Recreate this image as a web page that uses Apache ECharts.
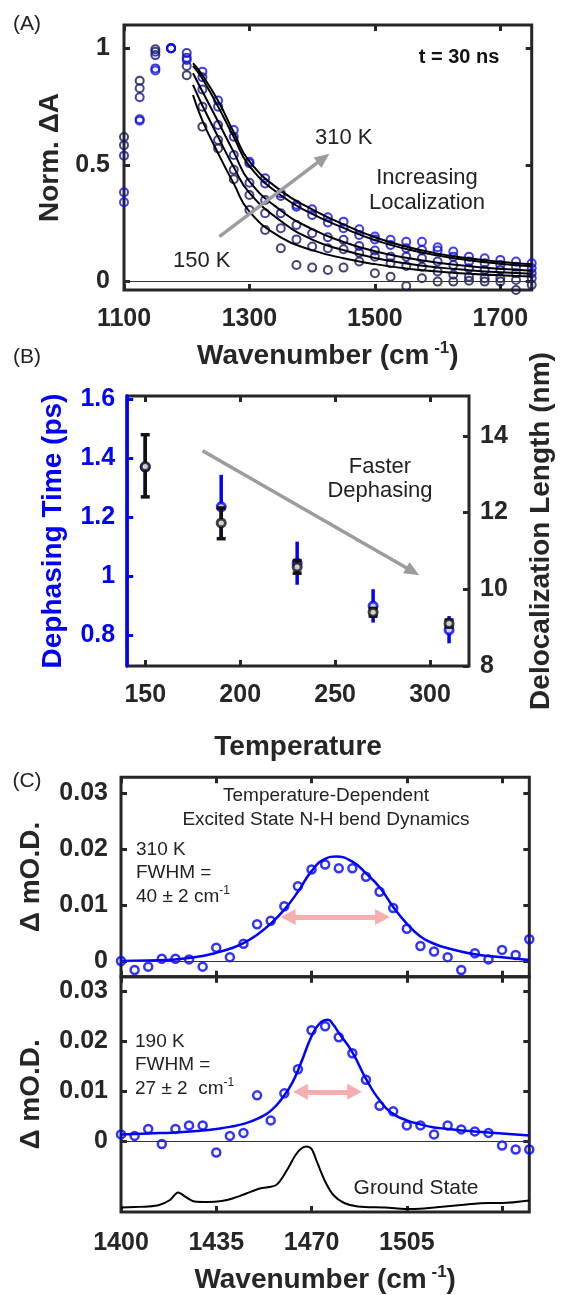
<!DOCTYPE html>
<html>
<head>
<meta charset="utf-8">
<script src="https://cdn.jsdelivr.net/npm/echarts@6/dist/echarts.min.js"></script>
<style>
  html, body { margin: 0; padding: 0; background: #fff; }
  #chart { width: 563px; height: 1295px; }
</style>
</head>
<body>
<div id="chart"></div>
<script>
// ---------- (A) normalized transient spectra, t = 30 ns ----------
const wnA = [1100, 1125, 1150, 1175, 1200, 1225, 1250, 1275, 1300, 1325, 1350, 1375, 1400, 1425,
             1450, 1475, 1500, 1525, 1550, 1575, 1600, 1625, 1650, 1675, 1700, 1725, 1750];
const tempsA = ['150 K', '190 K', '230 K', '270 K', '310 K'];
const normA150 = [0.62, 0.861, 0.996, 1.0, 0.885, 0.664, 0.571, 0.439, 0.307, 0.221, 0.143, 0.071, 0.06, 0.05,
                  0.06, 0.086, 0.036, 0.021, -0.019, 0.014, 0.0, 0.0, 0.004, 0.0, 0.0, -0.036, -0.014];
const normA190 = [0.585, 0.829, 0.985, 1.0, 0.924, 0.75, 0.607, 0.479, 0.371, 0.293, 0.229, 0.181, 0.15, 0.143,
                  0.139, 0.124, 0.107, 0.079, 0.067, 0.064, 0.043, 0.029, 0.021, 0.014, 0.014, 0.007, 0.014];
const normA230 = [0.54, 0.79, 0.971, 1.0, 0.98, 0.824, 0.671, 0.543, 0.424, 0.35, 0.293, 0.243, 0.207, 0.19,
                  0.179, 0.153, 0.133, 0.107, 0.107, 0.1, 0.086, 0.071, 0.057, 0.05, 0.05, 0.036, 0.036];
const normA270 = [0.383, 0.696, 0.914, 1.0, 0.96, 0.876, 0.75, 0.621, 0.507, 0.421, 0.367, 0.321, 0.286, 0.253,
                  0.229, 0.2, 0.181, 0.157, 0.143, 0.136, 0.133, 0.107, 0.086, 0.079, 0.071, 0.064, 0.057];
const normA310 = [0.34, 0.69, 0.905, 1.0, 0.95, 0.9, 0.776, 0.65, 0.514, 0.443, 0.379, 0.329, 0.31, 0.276,
                  0.257, 0.224, 0.193, 0.179, 0.171, 0.171, 0.147, 0.129, 0.107, 0.1, 0.093, 0.086, 0.079];
const fitWnA = [1210, 1225, 1250, 1275, 1300, 1350, 1400, 1450, 1500, 1550, 1600, 1650, 1700, 1750];
const fitA150 = [0.80, 0.69, 0.55, 0.42, 0.30, 0.19, 0.135, 0.1, 0.075, 0.056, 0.043, 0.034, 0.027, 0.022];
const fitA190 = [0.843, 0.755, 0.621, 0.49, 0.38, 0.26, 0.18, 0.135, 0.101, 0.078, 0.061, 0.049, 0.04, 0.034];
const fitA230 = [0.893, 0.815, 0.686, 0.555, 0.43, 0.305, 0.225, 0.17, 0.13, 0.102, 0.081, 0.066, 0.055, 0.047];
const fitA270 = [0.925, 0.87, 0.75, 0.62, 0.495, 0.37, 0.29, 0.23, 0.178, 0.14, 0.112, 0.092, 0.077, 0.066];
const fitA310 = [0.936, 0.885, 0.775, 0.64, 0.515, 0.39, 0.31, 0.245, 0.19, 0.15, 0.12, 0.10, 0.085, 0.074];
const ticksAx = [1100, 1300, 1500, 1700];
const ticksAy = [0, 0.5, 1];

// ---------- (B) dephasing time / delocalization length ----------
const tempB = [150, 190, 230, 270, 310];
const dephase = [1.37, 1.236, 1.045, 0.90, 0.819];
const dephaseLo = [1.27, 1.128, 0.972, 0.844, 0.774];
const dephaseHi = [1.47, 1.344, 1.118, 0.957, 0.866];
const deloc = [13.2, 11.73, 10.58, 9.4, 9.11];
const delocLo = [12.41, 11.32, 10.42, 9.3, 9.02];
const delocHi = [14.03, 12.12, 10.75, 9.5, 9.2];
const ticksBx = [150, 200, 250, 300];
const ticksBleft = [0.8, 1, 1.2, 1.4, 1.6];
const ticksBright = [8, 10, 12, 14];

// ---------- (C) N-H bend, 310 K and 190 K ----------
const wnC = [1400, 1405, 1410, 1415, 1420, 1425, 1430, 1435, 1440, 1445, 1450, 1455, 1460, 1465, 1470, 1475,
             1480, 1485, 1490, 1495, 1500, 1505, 1510, 1515, 1520, 1525, 1530, 1535, 1540, 1545, 1550];
const od310 = [0, -0.0016, -0.001, 0.0004, 0.0004, 0.0003, -0.001, 0.0024, 0.0007, 0.0031, 0.0066, 0.0072,
               0.0098, 0.0134, 0.0164, 0.0173, 0.0166, 0.0166, 0.0151, 0.0124, 0.0095, 0.0058, 0.0027,
               0.0017, 0.0007, -0.0016, 0.0014, 0.0003, 0.002, 0.0011, 0.0039];
const od190 = [0.0014, 0.0011, 0.0025, -0.0005, 0.0025, 0.0032, 0.0032, -0.0022, 0.0011, 0.0017, 0.0092, 0.0042,
               0.0096, 0.0144, 0.0222, 0.023, 0.0208, 0.0176, 0.0123, 0.0071, 0.006, 0.0032, 0.0032,
               0.0014, 0.0032, 0.0024, 0.002, 0.0017, -0.0008, -0.0016, -0.0016];
const fitWn310 = [1400, 1410, 1420, 1430, 1435, 1440, 1445, 1450, 1455, 1460, 1465, 1470, 1475, 1479, 1485,
                  1490, 1495, 1500, 1505, 1510, 1515, 1520, 1530, 1540, 1550];
const fit310 = [0, 0.0001, 0.0003, 0.0009, 0.0015, 0.0022, 0.0032, 0.0047, 0.0067, 0.0092, 0.0124, 0.0161,
                0.0183, 0.0187, 0.0178, 0.0157, 0.0132, 0.0097, 0.0067, 0.0044, 0.0031, 0.0023, 0.0012,
                0.0007, 0.0002];
const fitWn190 = [1400, 1410, 1420, 1430, 1435, 1440, 1445, 1450, 1455, 1460, 1463, 1466, 1470, 1473, 1476,
                  1478, 1480, 1485, 1490, 1495, 1500, 1505, 1510, 1515, 1520, 1525, 1530, 1540, 1550];
const fit190 = [0.0014, 0.0016, 0.0018, 0.0022, 0.0025, 0.0029, 0.0035, 0.0045, 0.0061, 0.0092, 0.0118,
                0.0155, 0.021, 0.0236, 0.0243, 0.0233, 0.0217, 0.0178, 0.0125, 0.0082, 0.0055, 0.0042,
                0.0034, 0.0028, 0.0025, 0.0022, 0.002, 0.0016, 0.0012];
const gsWn = [1400, 1405, 1410, 1414, 1418, 1421, 1424, 1427, 1432, 1437, 1441, 1446, 1451, 1457, 1461, 1464,
              1466, 1468, 1470, 1472, 1475, 1478, 1482, 1487, 1497, 1507, 1515, 1525, 1535, 1540, 1550];
const gsOD = [-0.0132, -0.0131, -0.013, -0.0127, -0.0117, -0.0102, -0.0112, -0.012, -0.0121, -0.0119, -0.0114,
              -0.0104, -0.0094, -0.0087, -0.0057, -0.0028, -0.0015, -0.001, -0.0015, -0.0041, -0.008, -0.0107,
              -0.0123, -0.013, -0.0132, -0.0135, -0.0132, -0.0127, -0.0123, -0.0123, -0.0118];
const ticksCx = [1400, 1435, 1470, 1505, 1540];
const ticksCy = [0, 0.01, 0.02, 0.03];

const INK = '#262626';
const BLUE = '#0000ff';
const FONT = '"Liberation Sans", Arial, sans-serif';
const colorsA = ['#14144c', '#181874', '#12129c', '#0e0ec6', '#1010ee'];

const pairs = (xs, ys) => xs.map((x, i) => [x, ys[i]]);

var dom = document.getElementById('chart');
var myChart = echarts.init(dom, null, { renderer: 'canvas' });

// plain axis that only carries inward ticks (mirror sides of the boxes)
function tickAxis(grid, pos, min, max, ticks, extra) {
    return Object.assign({
        type: 'value', gridIndex: grid, position: pos, min: min, max: max,
        axisLine: { show: false, onZero: false },
        axisTick: { show: true, inside: true, length: 6, customValues: ticks, lineStyle: { color: INK, width: 3 } },
        axisLabel: { show: false },
        splitLine: { show: false }
    }, extra || {});
}
function tickLabels(ticks, margin, color, fmt) {
    return {
        show: true, customValues: ticks, margin: margin,
        fontFamily: FONT, fontWeight: 'bold', fontSize: 25, color: color || INK,
        formatter: fmt || (v => String(v))
    };
}
const nameStyle = (color) => ({
    fontFamily: FONT, fontWeight: 'bold', fontSize: 28, color: color || INK,
    rich: {
        a: { fontFamily: FONT, fontWeight: 'bold', fontSize: 28, color: INK, lineHeight: 32 },
        s: { fontFamily: FONT, fontWeight: 'bold', fontSize: 17, color: INK, verticalAlign: 'top', lineHeight: 14 }
    }
});
const wnName = '{a|Wavenumber (cm}{s| -1}{a|)}';

const hollow = (color, size, bw, fill) => ({
    symbol: 'circle', symbolSize: size, clip: false,
    itemStyle: { color: fill || 'rgba(0,0,0,0)', borderColor: color, borderWidth: bw },
    emphasis: { disabled: true }
});

function errBars(color, capHalf) {
    return function (params, api) {
        const x = api.value(0);
        const lo = api.coord([x, api.value(1)]);
        const hi = api.coord([x, api.value(2)]);
        const st = { stroke: color, lineWidth: 3.5 };
        const kids = [{ type: 'line', shape: { x1: lo[0], y1: lo[1], x2: hi[0], y2: hi[1] }, style: st }];
        if (capHalf) {
            kids.push({ type: 'line', shape: { x1: lo[0] - capHalf, y1: lo[1], x2: lo[0] + capHalf, y2: lo[1] }, style: st });
            kids.push({ type: 'line', shape: { x1: hi[0] - capHalf, y1: hi[1], x2: hi[0] + capHalf, y2: hi[1] }, style: st });
        }
        return { type: 'group', children: kids };
    };
}

const zeroLine = { yAxis: 0, lineStyle: { color: '#333', width: 1, type: 'solid' } };
function arrow(from, to, color, width, both, size) {
    return [
        { coord: from, symbol: both ? 'triangle' : 'none', symbolSize: size, lineStyle: { color: color, width: width, type: 'solid' } },
        { coord: to, symbol: 'triangle', symbolSize: size }
    ];
}
const mlBase = { silent: true, animation: false, symbol: ['none', 'none'], label: { show: false }, emphasis: { disabled: true } };

const seriesA = [normA150, normA190, normA230, normA270, normA310].map((vals, i) => Object.assign({
    name: tempsA[i], type: 'scatter', xAxisIndex: 0, yAxisIndex: 0, z: 3,
    data: pairs(wnA, vals)
}, hollow(colorsA[i], 8, 2)));
const fitsA = [fitA150, fitA190, fitA230, fitA270, fitA310].map((vals, i) => ({
    name: tempsA[i] + ' fit', type: 'line', xAxisIndex: 0, yAxisIndex: 0, smooth: true, showSymbol: false,
    lineStyle: { color: '#000', width: 2 }, z: 4,
    data: pairs(fitWnA, vals)
}));
seriesA[0].markLine = Object.assign({}, mlBase, {
    data: [zeroLine, arrow([1252, 0.193], [1418, 0.529], '#9c9c9c', 3.5, false, [13, 15])]
});

const option = {
    animation: false,
    textStyle: { fontFamily: FONT },
    grid: [
        { left: 124, top: 25, width: 407.7, height: 265, show: true, borderColor: INK, borderWidth: 3 },
        { left: 127.2, top: 396, width: 348.8, height: 270, show: true, borderColor: INK, borderWidth: 3 },
        { left: 121, top: 777.3, width: 408.3, height: 199.4, show: true, borderColor: INK, borderWidth: 3 },
        { left: 121, top: 976.7, width: 408.3, height: 237.3, show: true, borderColor: INK, borderWidth: 3 }
    ],
    xAxis: [
        tickAxis(0, 'bottom', 1100, 1750, ticksAx, {
            axisLabel: tickLabels(ticksAx, 17),
            name: wnName, nameLocation: 'middle', nameGap: 50, nameTextStyle: nameStyle()
        }),
        tickAxis(0, 'top', 1100, 1750, ticksAx),
        tickAxis(1, 'bottom', 140.5, 320.5, ticksBx, {
            axisLabel: tickLabels(ticksBx, 17),
            name: 'Temperature', nameLocation: 'middle', nameGap: 67, nameTextStyle: nameStyle()
        }),
        tickAxis(1, 'top', 140.5, 320.5, ticksBx),
        tickAxis(2, 'bottom', 1400, 1550, ticksCx),
        tickAxis(2, 'top', 1400, 1550, ticksCx),
        tickAxis(3, 'bottom', 1400, 1550, ticksCx, {
            axisLabel: tickLabels(ticksCx, 19, INK, v => (v === 1540 ? '' : String(v))),
            name: wnName, nameLocation: 'middle', nameGap: 52, nameTextStyle: nameStyle()
        }),
        tickAxis(3, 'top', 1400, 1550, ticksCx)
    ],
    yAxis: [
        tickAxis(0, 'left', -0.036, 1.1, ticksAy, {
            axisLabel: tickLabels(ticksAy, 14),
            name: 'Norm. \u0394A', nameLocation: 'middle', nameGap: 60, nameRotate: 90, nameTextStyle: nameStyle()
        }),
        tickAxis(0, 'right', -0.036, 1.1, ticksAy),
        tickAxis(1, 'left', 0.697, 1.611, ticksBleft, {
            z: 5,
            axisLine: { show: true, onZero: false, lineStyle: { color: BLUE, width: 3.5 } },
            axisTick: { show: true, inside: true, length: 6, customValues: ticksBleft, lineStyle: { color: BLUE, width: 3 } },
            axisLabel: tickLabels(ticksBleft, 12, BLUE),
            name: 'Dephasing Time (ps)', nameLocation: 'middle', nameGap: 60, nameRotate: 90, nameTextStyle: nameStyle(BLUE)
        }),
        tickAxis(1, 'right', 8, 15.04, ticksBright, {
            axisLabel: tickLabels(ticksBright, 11),
            name: 'Delocalization Length (nm)', nameLocation: 'middle', nameGap: 58, nameRotate: 90, nameTextStyle: nameStyle()
        }),
        tickAxis(2, 'left', -0.0028, 0.0329, ticksCy, {
            axisLabel: tickLabels(ticksCy, 13),
            name: '\u0394 mO.D.', nameLocation: 'middle', nameGap: 76, nameRotate: 90, nameTextStyle: nameStyle()
        }),
        tickAxis(2, 'right', -0.0028, 0.0329, ticksCy),
        tickAxis(3, 'left', -0.0141, 0.0329, ticksCy, {
            axisLabel: tickLabels(ticksCy, 13),
            name: '\u0394 mO.D.', nameLocation: 'middle', nameGap: 76, nameRotate: 90, nameTextStyle: nameStyle()
        }),
        tickAxis(3, 'right', -0.0141, 0.0329, ticksCy)
    ],
    series: [
        ...seriesA,
        ...fitsA,
        // (B)
        {
            name: 'dephasing err', type: 'custom', xAxisIndex: 2, yAxisIndex: 2, z: 2,
            renderItem: errBars(BLUE, 0), encode: { x: 0, y: [1, 2] },
            data: tempB.map((t, i) => [t, dephaseLo[i], dephaseHi[i]])
        },
        Object.assign({
            name: 'Dephasing Time', type: 'scatter', xAxisIndex: 2, yAxisIndex: 2, z: 3,
            data: pairs(tempB, dephase),
            markLine: Object.assign({}, mlBase, {
                data: [arrow([180.2, 1.426], [290.9, 1.017], '#9c9c9c', 3.5, false, [13, 15])]
            })
        }, hollow(BLUE, 8, 3, '#fff')),
        {
            name: 'delocalization err', type: 'custom', xAxisIndex: 2, yAxisIndex: 3, z: 4,
            renderItem: errBars('#111', 4.5), encode: { x: 0, y: [1, 2] },
            data: tempB.map((t, i) => [t, delocLo[i], delocHi[i]])
        },
        Object.assign({
            name: 'Delocalization Length', type: 'scatter', xAxisIndex: 2, yAxisIndex: 3, z: 5,
            data: pairs(tempB, deloc)
        }, hollow('#111', 8, 3, '#fff')),
        // (C) 310 K
        Object.assign({
            name: '310 K', type: 'scatter', xAxisIndex: 4, yAxisIndex: 4, z: 4,
            data: pairs(wnC, od310),
            markLine: Object.assign({}, mlBase, {
                data: [zeroLine, arrow([1461.4, 0.0079], [1496.1, 0.0079], '#f6afaf', 5, true, [16, 15])]
            })
        }, hollow(BLUE, 8, 2.5)),
        {
            name: '310 K fit', type: 'line', xAxisIndex: 4, yAxisIndex: 4, smooth: true, showSymbol: false, z: 3,
            lineStyle: { color: BLUE, width: 2.5 }, data: pairs(fitWn310, fit310)
        },
        // (C) 190 K + ground state
        {
            name: 'Ground State', type: 'line', xAxisIndex: 6, yAxisIndex: 6, smooth: 0.3, showSymbol: false, z: 2,
            lineStyle: { color: '#000', width: 2 }, data: pairs(gsWn, gsOD),
            markLine: Object.assign({}, mlBase, {
                data: [zeroLine, arrow([1465.9, 0.0099], [1485.8, 0.0099], '#f6afaf', 5, true, [16, 15])]
            })
        },
        Object.assign({
            name: '190 K', type: 'scatter', xAxisIndex: 6, yAxisIndex: 6, z: 4,
            data: pairs(wnC, od190)
        }, hollow(BLUE, 8, 2.5)),
        {
            name: '190 K fit', type: 'line', xAxisIndex: 6, yAxisIndex: 6, smooth: true, showSymbol: false, z: 3,
            lineStyle: { color: BLUE, width: 2.5 }, data: pairs(fitWn190, fit190)
        }
    ],
    graphic: [
        { type: 'text', x: 27, y: 24, style: { text: '(A)', font: '21px ' + FONT, fill: '#222', align: 'center', verticalAlign: 'middle' } },
        { type: 'text', x: 27, y: 357, style: { text: '(B)', font: '21px ' + FONT, fill: '#222', align: 'center', verticalAlign: 'middle' } },
        { type: 'text', x: 27, y: 781, style: { text: '(C)', font: '21px ' + FONT, fill: '#222', align: 'center', verticalAlign: 'middle' } },
        { type: 'text', x: 459, y: 57, style: { text: 't = 30 ns', font: 'bold 20px ' + FONT, fill: '#111', align: 'center', verticalAlign: 'middle' } },
        { type: 'text', x: 315, y: 138, style: { text: '310 K', font: '22px ' + FONT, fill: '#222', align: 'left', verticalAlign: 'middle' } },
        { type: 'text', x: 173, y: 261, style: { text: '150 K', font: '22px ' + FONT, fill: '#222', align: 'left', verticalAlign: 'middle' } },
        { type: 'text', x: 427, y: 190, style: { text: 'Increasing\nLocalization', font: '22px ' + FONT, lineHeight: 25, fill: '#222', align: 'center', verticalAlign: 'middle' } },
        { type: 'text', x: 380, y: 479, style: { text: 'Faster\nDephasing', font: '22px ' + FONT, lineHeight: 24, fill: '#222', align: 'center', verticalAlign: 'middle' } },
        { type: 'text', x: 326, y: 808, style: { text: 'Temperature-Dependent\nExcited State N-H bend Dynamics', font: '19px ' + FONT, lineHeight: 24, fill: '#222', align: 'center', verticalAlign: 'middle' } },
        {
            type: 'text', left: 136, top: 840,
            style: {
                text: '{t|310 K}\n{t|FWHM =}\n{t|40 \u00b1 2 cm}{s|-1}', fill: '#222',
                rich: { t: { font: '19px ' + FONT, lineHeight: 23.5, fill: '#222' }, s: { font: '12px ' + FONT, verticalAlign: 'top', lineHeight: 12, fill: '#222' } }
            }
        },
        {
            type: 'text', left: 135, top: 1032,
            style: {
                text: '{t|190 K}\n{t|FWHM =}\n{t|27 \u00b1 2  cm}{s|-1}', fill: '#222',
                rich: { t: { font: '19px ' + FONT, lineHeight: 23.5, fill: '#222' }, s: { font: '12px ' + FONT, verticalAlign: 'top', lineHeight: 12, fill: '#222' } }
            }
        },
        { type: 'text', x: 416, y: 1188, style: { text: 'Ground State', font: '21px ' + FONT, fill: '#222', align: 'center', verticalAlign: 'middle' } }
    ]
};

if (option && typeof option === 'object') {
    myChart.setOption(option);
}
window.addEventListener('resize', myChart.resize);
</script>
</body>
</html>
